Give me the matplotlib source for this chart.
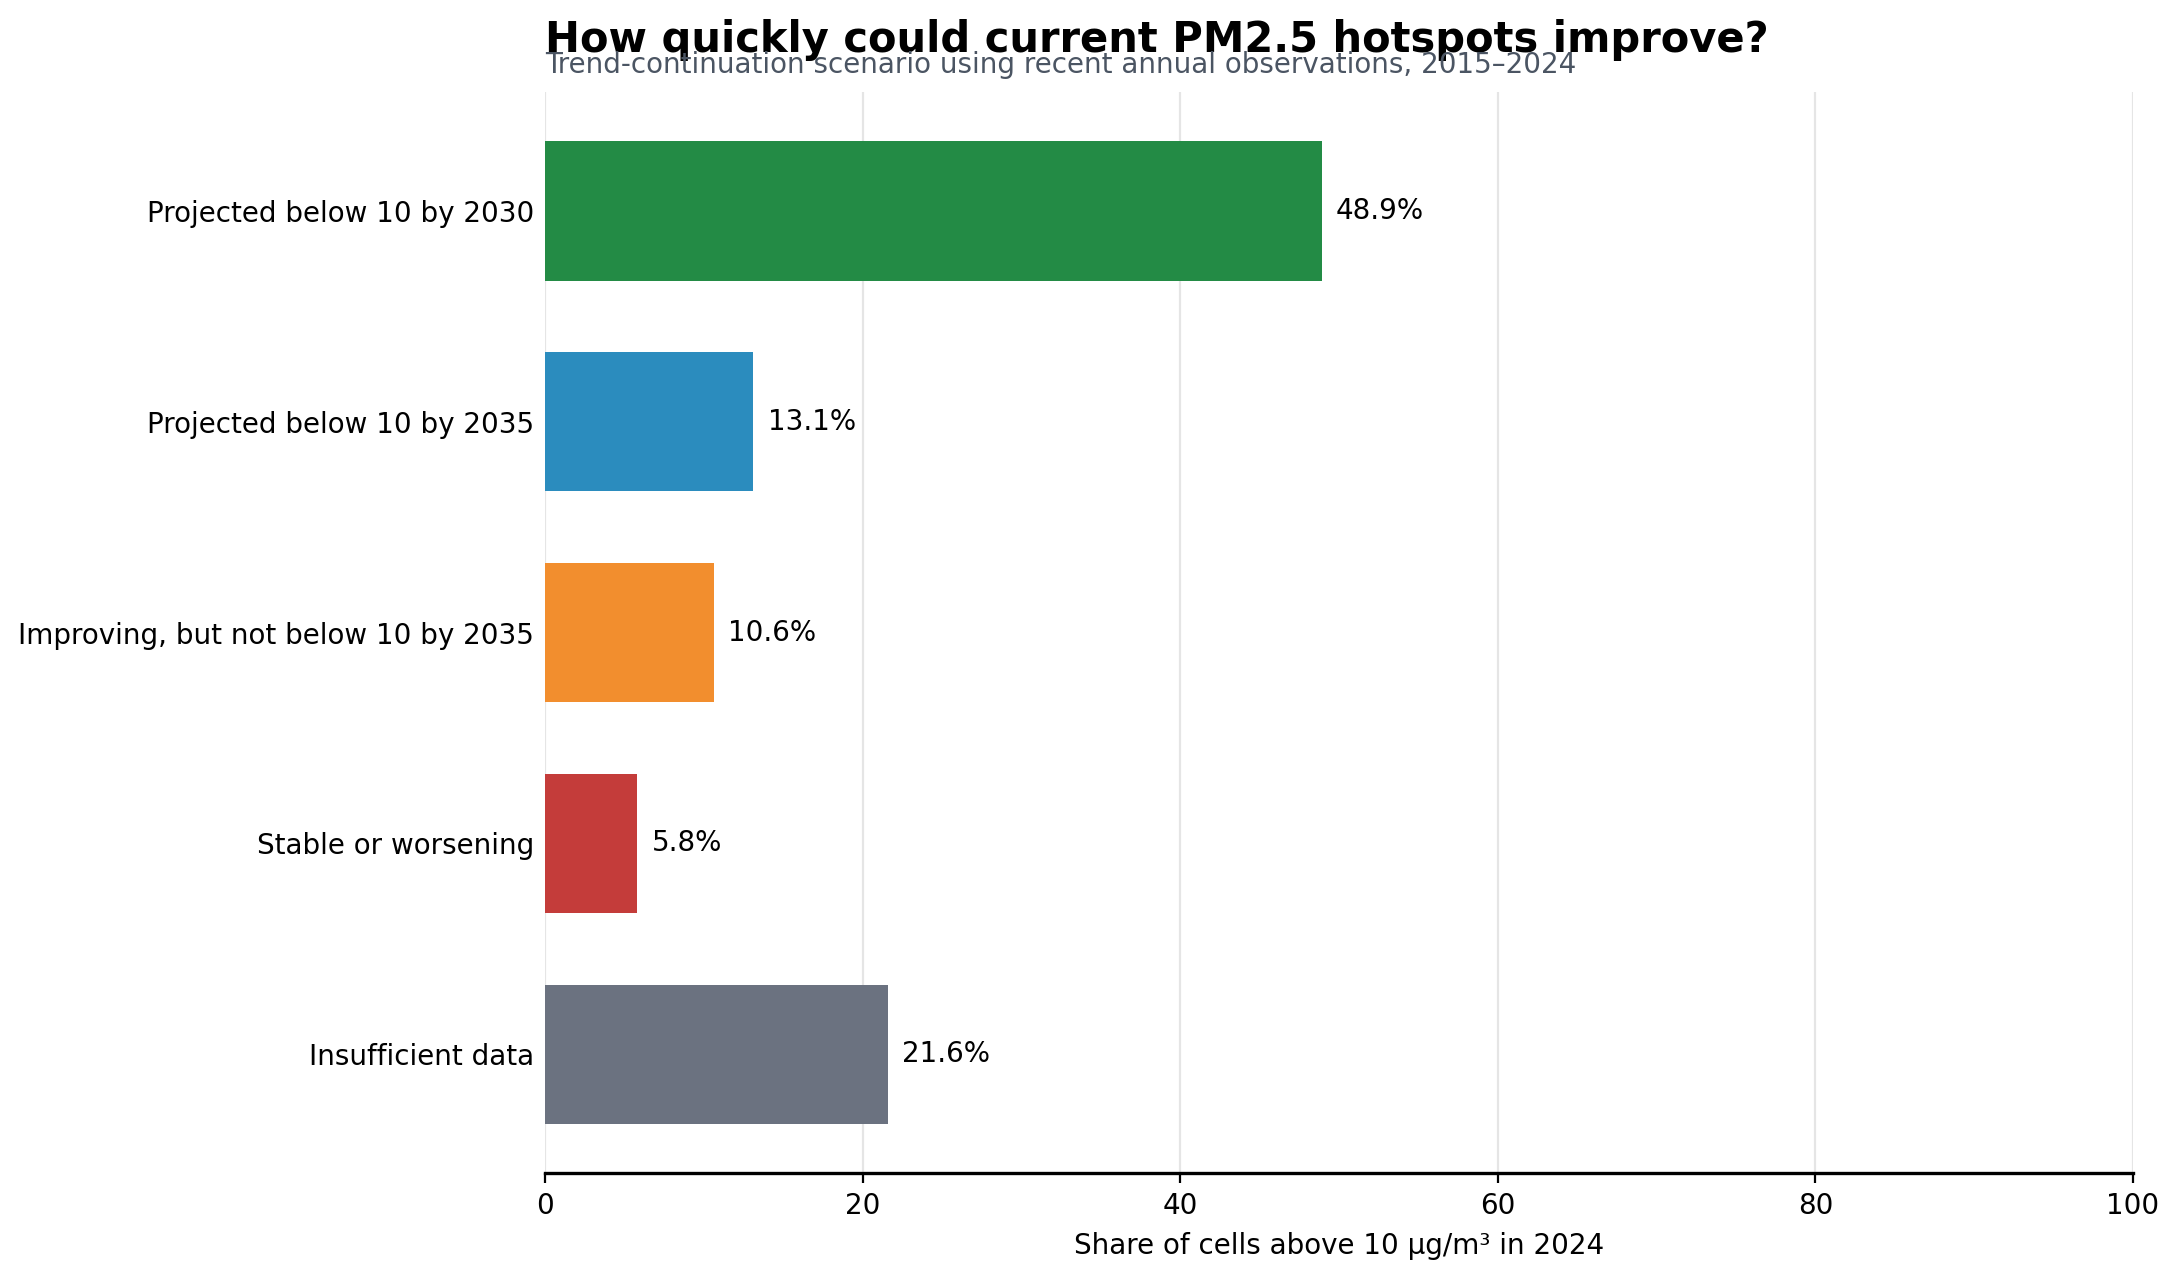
import matplotlib
matplotlib.use("Agg")
import matplotlib.pyplot as plt
import numpy as np

categories = [
    "Projected below 10 by 2030",
    "Projected below 10 by 2035",
    "Improving, but not below 10 by 2035",
    "Stable or worsening",
    "Insufficient data",
]
shares = [48.9, 13.1, 10.6, 5.8, 21.6]
colors = ["#238b45", "#2b8cbe", "#f28e2e", "#c43c3a", "#6b7280"]

fig = plt.figure(figsize=(10.905, 6.405), dpi=200)
ax = fig.add_axes([0.25, 0.0843, 0.728, 0.8437])

y = np.arange(len(categories))
ax.barh(y, shares, height=0.66, color=colors, zorder=3)
ax.set_yticks(y)
ax.set_yticklabels(categories, fontsize=10)
ax.invert_yaxis()
ax.set_xlim(0, 100)
ax.tick_params(axis="y", length=0, pad=4)
ax.tick_params(axis="x", labelsize=10)

for yi, v in zip(y, shares):
    ax.text(v + 0.9, yi, f"{v:.1f}%", va="center", ha="left", fontsize=10)

ax.grid(axis="x", color="#e5e5e5", linewidth=0.8, zorder=0)
for s in ["top", "right", "left"]:
    ax.spines[s].set_visible(False)
ax.spines["bottom"].set_linewidth(1.2)

ax.set_xlabel("Share of cells above 10 µg/m³ in 2024", fontsize=10)

fig.text(0.25, 0.969, "How quickly could current PM2.5 hotspots improve?",
         fontsize=15, fontweight="bold", ha="left", va="center")
fig.text(0.25, 0.949, "Trend-continuation scenario using recent annual observations, 2015–2024",
         fontsize=10, color="#4b5563", ha="left", va="center")

fig.savefig("out.png", dpi=200)
